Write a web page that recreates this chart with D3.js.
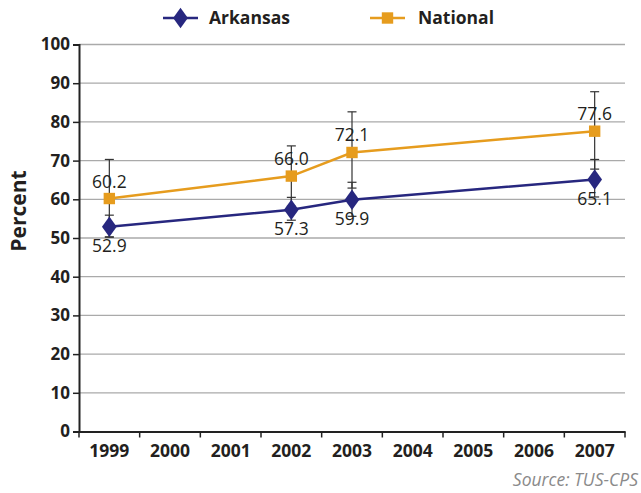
<!DOCTYPE html>
<html><head><meta charset="utf-8">
<script src="https://cdn.jsdelivr.net/npm/d3@7/dist/d3.min.js"></script>
<style>body{margin:0;background:#fff}svg{display:block}</style>
</head><body><svg id="c" width="641" height="493"></svg>
<script>
const years = ["1999","2000","2001","2002","2003","2004","2005","2006","2007"];
const dataYears = ["1999","2002","2003","2007"];
const arkansas = [52.9, 57.3, 59.9, 65.1];
const arkansasLow = [50.3, 54.6, 55.6, 60.6];
const arkansasHigh = [55.9, 60.5, 64.4, 70.3];
const national = [60.2, 66.0, 72.1, 77.6];
const nationalLow = [50.2, 58.2, 62.9, 67.8];
const nationalHigh = [70.3, 73.8, 82.6, 87.8];
const yTicks = [0,10,20,30,40,50,60,70,80,90,100];

const svg = d3.select("#c");
const font = "'Open Sans', 'Noto Sans', sans-serif";
const L = 79, R = 625, T = 44.5, B = 431.5;
const x = d3.scaleBand().domain(years).range([L, R]);
const y = d3.scaleLinear().domain([0,100]).range([B, T]);
const cx = d => x(d) + x.bandwidth()/2;

// gridlines
svg.append("g").selectAll("line").data(yTicks.filter(d=>d>0)).join("line")
  .attr("x1", L).attr("x2", R).attr("y1", d=>y(d)).attr("y2", d=>y(d))
  .attr("stroke", "#aaa").attr("stroke-width", 1.3);

// y axis
const ya = svg.append("g").attr("transform", `translate(${L},0)`)
  .call(d3.axisLeft(y).tickValues(yTicks).tickSize(6).tickPadding(3));
ya.select(".domain").attr("stroke", "#222").attr("stroke-width", 2);
ya.selectAll(".tick line").attr("stroke", "#222").attr("stroke-width", 1.5);
ya.selectAll("text").attr("font-family", font).attr("font-weight", "bold")
  .attr("font-size", 17).attr("fill", "#231f20");

// x axis
const xa = svg.append("g").attr("transform", `translate(0,${B})`)
  .call(d3.axisBottom(x).tickSize(0).tickPadding(13));
xa.select(".domain").attr("stroke", "#222").attr("stroke-width", 2);
xa.selectAll("text").attr("font-family", font).attr("font-weight", "bold")
  .attr("font-size", 17.5).attr("fill", "#231f20");
svg.append("g").selectAll("line").data(years.concat(["end"])).join("line")
  .attr("x1", (d,i)=> L + i*x.step()).attr("x2", (d,i)=> L + i*x.step())
  .attr("y1", B).attr("y2", B+6).attr("stroke", "#222").attr("stroke-width", 1.5);

// y title
svg.append("text").attr("transform", "translate(26,211) rotate(-90)")
  .attr("text-anchor", "middle").attr("font-family", font).attr("font-weight", "bold")
  .attr("font-size", 21).attr("fill", "#231f20").text("Percent");

const cOrange = "#e69c1e", cNavy = "#27277f";

// error bars
function errBars(low, high) {
  const g = svg.append("g").attr("stroke", "#333").attr("stroke-width", 1.2);
  dataYears.forEach((yr, i) => {
    const px = cx(yr);
    g.append("line").attr("x1", px).attr("x2", px).attr("y1", y(low[i])).attr("y2", y(high[i]));
    [low[i], high[i]].forEach(v => g.append("line").attr("x1", px-4.5).attr("x2", px+4.5)
      .attr("y1", y(v)).attr("y2", y(v)));
  });
}
errBars(nationalLow, nationalHigh);
errBars(arkansasLow, arkansasHigh);

const line = d3.line().x((d,i)=>cx(dataYears[i])).y(d=>y(d));
svg.append("path").datum(national).attr("d", line).attr("fill","none")
  .attr("stroke", cOrange).attr("stroke-width", 2.5);
svg.append("path").datum(arkansas).attr("d", line).attr("fill","none")
  .attr("stroke", cNavy).attr("stroke-width", 2.5);

const sq = d3.symbol().type(d3.symbolSquare).size(130);
const dm = d3.symbol().type(d3.symbolDiamond).size(120);
svg.append("g").selectAll("path").data(national).join("path")
  .attr("transform", (d,i)=>`translate(${cx(dataYears[i])},${y(d)})`).attr("d", sq()).attr("fill", cOrange);
svg.append("g").selectAll("path").data(arkansas).join("path")
  .attr("transform", (d,i)=>`translate(${cx(dataYears[i])},${y(d)}) scale(1.25,1)`).attr("d", dm()).attr("fill", cNavy);

// value labels
svg.append("g").selectAll("text").data(national).join("text")
  .attr("x", (d,i)=>cx(dataYears[i])).attr("y", d=>y(d)-11)
  .attr("text-anchor","middle").attr("font-family", font).attr("font-size", 17.5)
  .attr("fill", "#231f20").text(d=>d.toFixed(1));
svg.append("g").selectAll("text").data(arkansas).join("text")
  .attr("x", (d,i)=>cx(dataYears[i])).attr("y", d=>y(d)+25)
  .attr("text-anchor","middle").attr("font-family", font).attr("font-size", 17.5)
  .attr("fill", "#231f20").text(d=>d.toFixed(1));

// legend
const lg = svg.append("g");
lg.append("line").attr("x1",163).attr("x2",198).attr("y1",18).attr("y2",18).attr("stroke",cNavy).attr("stroke-width",2.5);
lg.append("path").attr("transform","translate(180.5,18) scale(1.25,1)").attr("d", dm()).attr("fill", cNavy);
lg.append("text").attr("x",209).attr("y",24).attr("font-family",font).attr("font-weight","bold")
  .attr("font-size",17.5).attr("fill","#231f20").text("Arkansas");
lg.append("line").attr("x1",370).attr("x2",405).attr("y1",18).attr("y2",18).attr("stroke",cOrange).attr("stroke-width",2.5);
lg.append("path").attr("transform","translate(387.5,18)").attr("d", sq()).attr("fill", cOrange);
lg.append("text").attr("x",418).attr("y",24).attr("font-family",font).attr("font-weight","bold")
  .attr("font-size",17.5).attr("fill","#231f20").text("National");

svg.append("text").attr("x",638).attr("y",486).attr("text-anchor","end")
  .attr("font-family",font).attr("font-style","italic").attr("font-size",17.5)
  .attr("fill","#8a8a8a").text("Source: TUS-CPS");
</script></body></html>
